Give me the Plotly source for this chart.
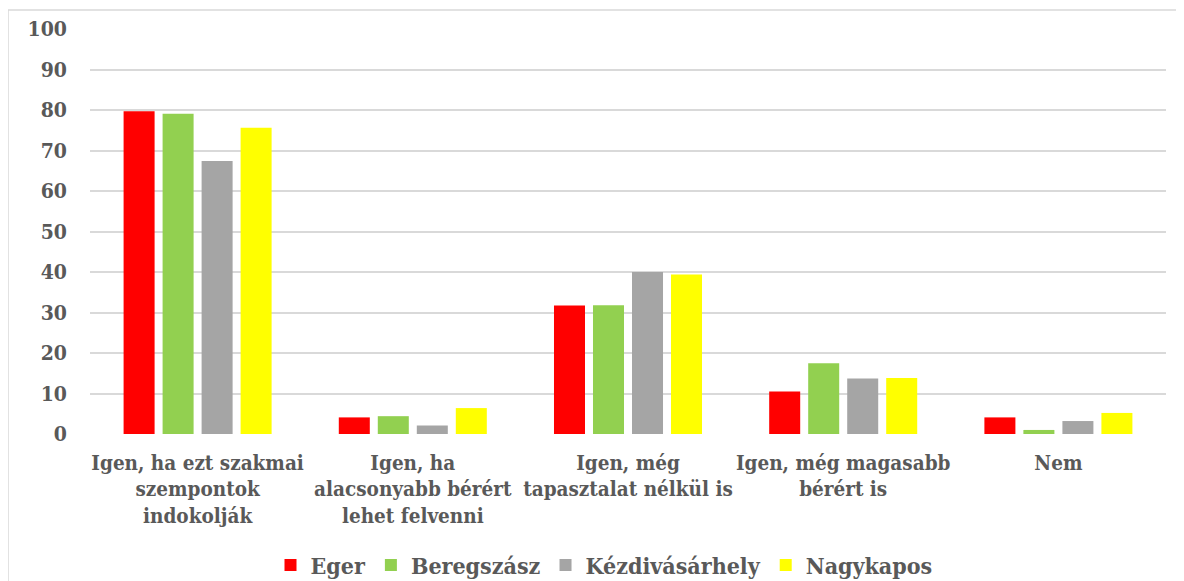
import plotly.graph_objects as go

categories = [
    "Igen, ha ezt szakmai<br>szempontok<br>indokolják",
    "Igen, ha<br>alacsonyabb bérért<br>lehet felvenni",
    "Igen, még<br>tapasztalat nélkül is",
    "Igen, még magasabb<br>bérért is",
    "Nem",
]
eger = [79.7, 4.1, 31.7, 10.5, 4.1]
beregszasz = [79.1, 4.4, 31.8, 17.5, 1.0]
kezdivasarhely = [67.4, 2.1, 40.0, 13.7, 3.2]
nagykapos = [75.6, 6.4, 39.4, 13.8, 5.2]

series_names = ["Eger", "Beregszász", "Kézdivásárhely", "Nagykapos"]
series_values = [eger, beregszasz, kezdivasarhely, nagykapos]
colors = ["#FF0000", "#92D050", "#A5A5A5", "#FFFF00"]

y_ticks = list(range(0, 101, 10))

TXT = "#595959"
FONT = "DejaVu Serif Condensed, DejaVu Serif"

# page body has an 8px margin, so the figure is sized/offset to compensate
W, H = 1176, 573
L, R, T, B = 82, 18, 21, 147
PH = H - T - B
PW = W - L - R

fig = go.Figure()
for name, vals, col in zip(series_names, series_values, colors):
    fig.add_trace(go.Bar(x=categories, y=vals, name=name, marker_color=col,
                         marker_line_width=0))

fig.update_layout(
    template="none",
    width=W, height=H,
    margin=dict(l=L, r=R, t=T, b=B),
    paper_bgcolor="white", plot_bgcolor="white",
    barmode="group", bargap=0.275, bargroupgap=0.205,
    font=dict(family=FONT, color=TXT),
    legend=dict(orientation="h", x=(596 - L) / PW, xanchor="center",
                yref="container", y=(H - 557) / H, yanchor="middle",
                font=dict(family=FONT, size=23, color=TXT, weight="bold"),
                itemwidth=30, tracegroupgap=0),
    showlegend=True,
)
fig.update_yaxes(range=[0, 100], tickvals=y_ticks, showgrid=True, gridcolor="#D9D9D9",
                 gridwidth=1.5, zeroline=False, showline=False, automargin=False,
                 tickfont=dict(family=FONT, size=21, color=TXT, weight="bold"),
                 ticklabelstandoff=22)
fig.update_xaxes(showgrid=False, showline=False, zeroline=False, automargin=False,
                 tickfont=dict(family=FONT, size=20.5, color=TXT, weight="bold"),
                 tickangle=0, ticklabelstandoff=14)

fig.add_shape(type="rect", xref="paper", yref="paper",
              x0=(0 - L) / PW, x1=(1175 - L) / PW,
              y0=-0.5, y1=(PH + T - 2) / PH,
              line=dict(color="#D9D9D9", width=1.5), fillcolor="rgba(0,0,0,0)", layer="below")

fig.write_html("out.html")
